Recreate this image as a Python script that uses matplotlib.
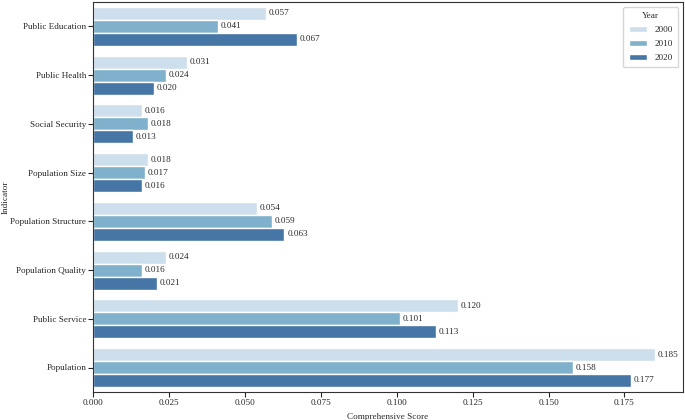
import numpy as np
import pandas as pd
import matplotlib
matplotlib.use('Agg')
import matplotlib.pyplot as plt
import seaborn as sns

indicators = ['Public Education', 'Public Health', 'Social Security', 'Population Size',
              'Population Structure', 'Population Quality', 'Public Service', 'Population']
years = ['2000', '2010', '2020']
score2000 = [0.057, 0.031, 0.016, 0.018, 0.054, 0.024, 0.120, 0.185]
score2010 = [0.041, 0.024, 0.018, 0.017, 0.059, 0.016, 0.101, 0.158]
score2020 = [0.067, 0.020, 0.013, 0.016, 0.063, 0.021, 0.113, 0.177]
colors = ['#cddeec', '#7fb1cc', '#4676a6']

rows = []
for year, scores in zip(years, [score2000, score2010, score2020]):
    for ind, s in zip(indicators, scores):
        rows.append({'Indicator': ind, 'Year': year, 'Comprehensive Score': s})
df = pd.DataFrame(rows)

sns.set_style('ticks')
plt.rcParams['font.family'] = ['Liberation Serif', 'DejaVu Serif']
fs = 6.6
plt.rcParams['font.size'] = fs

fig, ax = plt.subplots(figsize=(6.85, 4.2), dpi=100)
sns.barplot(data=df, y='Indicator', x='Comprehensive Score', hue='Year',
            palette=colors, saturation=1, orient='h', ax=ax)

for container in ax.containers:
    ax.bar_label(container, fmt='%.3f', padding=2, fontsize=fs)

ax.set_xlabel('Comprehensive Score', fontsize=fs)
ax.set_ylabel('Indicator', fontsize=fs)
ax.xaxis.set_label_coords(0.5, -0.053)
ax.yaxis.set_label_coords(-0.142, 0.5)
ax.tick_params(labelsize=fs, length=3.5, width=0.8, pad=1.5)
for sp in ax.spines.values():
    sp.set_linewidth(0.8)
    sp.set_color('#333333')

leg = ax.legend(title='Year', loc='upper right', fontsize=fs, title_fontsize=fs,
                frameon=True, borderpad=0.6, labelspacing=0.6)

plt.subplots_adjust(left=0.136, right=0.997, top=0.995, bottom=0.067)
plt.savefig('out.png', dpi=100)
